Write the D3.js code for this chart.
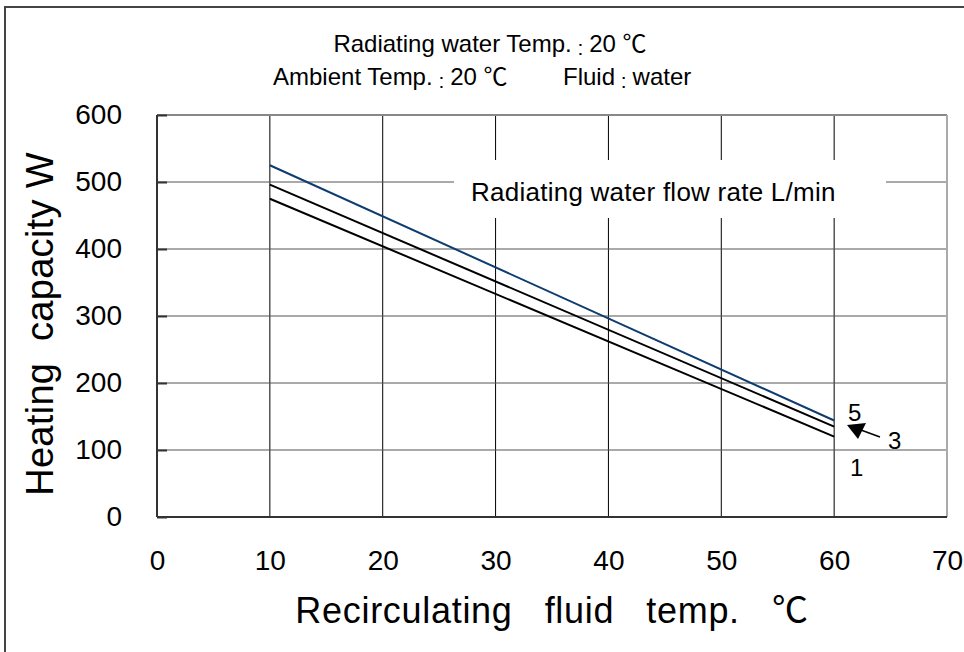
<!DOCTYPE html>
<html>
<head>
<meta charset="utf-8">
<script src="https://cdn.jsdelivr.net/npm/d3@7"></script>
<style>
  body { margin: 0; background: #fff; }
  svg text { font-family: "Liberation Sans", Arial, "Noto Sans CJK JP", sans-serif; fill: #000; }
</style>
</head>
<body>
<div id="chart"></div>
<script>
// recirculating fluid temp (deg C) at the ends of each line
const temps = [10, 60];
// heating capacity W, one series per radiating water flow rate
const flow5 = [525, 144];
const flow3 = [496, 135];
const flow1 = [475, 120];
const seriesNames = ["5", "3", "1"];

const xTicks = [0, 10, 20, 30, 40, 50, 60, 70];
const yTicks = [0, 100, 200, 300, 400, 500, 600];

const width = 964, height = 652;
const margin = {top: 115, right: 17, bottom: 135, left: 157};

const svg = d3.select("#chart").append("svg")
    .attr("width", width)
    .attr("height", height);

const x = d3.scaleLinear().domain([0, 70]).range([margin.left, width - margin.right]);
const y = d3.scaleLinear().domain([0, 600]).range([height - margin.bottom, margin.top]);

// outer frame
svg.append("path")
    .attr("d", `M5,${height} V7 H${width}`)
    .attr("fill", "none")
    .attr("stroke", "#444")
    .attr("stroke-width", 2);

// grid
svg.append("g")
    .selectAll("line")
    .data(xTicks.slice(1, -1))
    .join("line")
    .attr("x1", d => x(d)).attr("x2", d => x(d))
    .attr("y1", y(600)).attr("y2", y(0))
    .attr("stroke", "#000")
    .attr("stroke-width", 1);

svg.append("g")
    .selectAll("line")
    .data(yTicks.slice(1, -1))
    .join("line")
    .attr("x1", x(0)).attr("x2", x(70))
    .attr("y1", d => y(d)).attr("y2", d => y(d))
    .attr("stroke", "#555")
    .attr("stroke-width", 1);

// white box behind the legend title
svg.append("rect")
    .attr("x", 454).attr("y", 160)
    .attr("width", 432).attr("height", 58)
    .attr("fill", "#fff");

svg.append("text")
    .attr("x", 471).attr("y", 201)
    .style("font-size", "26px")
    .style("letter-spacing", "0.25px")
    .text("Radiating water flow rate L/min");

// plot border
svg.append("line").attr("x1", x(0)).attr("x2", x(70)).attr("y1", y(600)).attr("y2", y(600))
    .attr("stroke", "#888").attr("stroke-width", 2);
svg.append("line").attr("x1", x(70)).attr("x2", x(70)).attr("y1", y(600)).attr("y2", y(0))
    .attr("stroke", "#aaa").attr("stroke-width", 2);
svg.append("line").attr("x1", x(0)).attr("x2", x(70)).attr("y1", y(0)).attr("y2", y(0))
    .attr("stroke", "#333").attr("stroke-width", 2);
svg.append("line").attr("x1", x(0)).attr("x2", x(0)).attr("y1", y(600)).attr("y2", y(0))
    .attr("stroke", "#333").attr("stroke-width", 2);

// axes (labels only, lines drawn above)
const yAxis = svg.append("g")
    .attr("transform", `translate(${x(0)},0)`)
    .call(d3.axisLeft(y).tickValues(yTicks).tickSize(-10).tickPadding(45));
const xAxis = svg.append("g")
    .attr("transform", `translate(0,${y(0)})`)
    .call(d3.axisBottom(x).tickValues(xTicks).tickSize(0).tickPadding(33));
[yAxis, xAxis].forEach(a => {
    a.select(".domain").remove();
    a.selectAll("text").style("font-size", "28px").attr("fill", "#000")
        .style("font-family", "'Liberation Sans', Arial, sans-serif");
    a.selectAll(".tick line").attr("stroke", "#333").attr("stroke-width", 2);
});
yAxis.selectAll("text").attr("text-anchor", "end").attr("dx", 10);

// series lines
const line = d3.line().x((d, i) => x(temps[i])).y(d => y(d));
const series = [flow5, flow3, flow1];
const colors = ["#0d3c6e", "#000", "#000"];
svg.append("g")
    .selectAll("path")
    .data(series)
    .join("path")
    .attr("d", d => line(d))
    .attr("fill", "none")
    .attr("stroke", (d, i) => colors[i])
    .attr("stroke-width", 2);

// series labels
const labelPos = [[848, 421], [888, 449], [850, 476]];
svg.append("g")
    .selectAll("text")
    .data(seriesNames)
    .join("text")
    .attr("x", (d, i) => labelPos[i][0])
    .attr("y", (d, i) => labelPos[i][1])
    .style("font-size", "24px")
    .text(d => d);

// arrow for "3"
svg.append("line")
    .attr("x1", 880).attr("y1", 437)
    .attr("x2", 850).attr("y2", 426)
    .attr("stroke", "#000").attr("stroke-width", 1.5);
svg.append("path")
    .attr("d", "M847,425 L866,423 L858,439 Z")
    .attr("fill", "#000");

// header: the colon is small and sits low, as in the source sheet
function header(xPos, yPos, before, after, anchor) {
    const t = svg.append("text")
        .attr("x", xPos).attr("y", yPos)
        .attr("text-anchor", anchor || "start")
        .style("font-size", "24px")
        .style("white-space", "pre");
    t.append("tspan").text(before);
    t.append("tspan").attr("dy", 3).style("font-size", "21px").text(" : ");
    t.append("tspan").attr("dy", -3).text(after);
}
header(490, 52, "Radiating water Temp.", "20 ℃", "middle");
header(273, 85, "Ambient Temp.", "20 ℃");
header(563, 85, "Fluid", "water");

// axis titles
svg.append("text")
    .attr("transform", `translate(53,${(y(0) + y(600)) / 2 + 8}) rotate(-90)`)
    .attr("text-anchor", "middle")
    .style("font-size", "38px")
    .style("letter-spacing", "0.3px")
    .style("white-space", "pre")
    .text("Heating  capacity W");

svg.append("text")
    .attr("x", (x(0) + x(70)) / 2).attr("y", 623)
    .attr("text-anchor", "middle")
    .style("font-size", "36px")
    .style("letter-spacing", "0.7px")
    .style("white-space", "pre")
    .text("Recirculating   fluid   temp.   ℃");
</script>
</body>
</html>
